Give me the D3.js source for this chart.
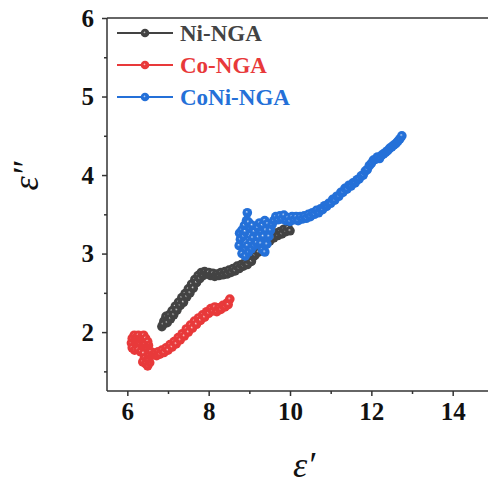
<!DOCTYPE html>
<html>
<head>
<meta charset="utf-8">
<script src="https://cdn.jsdelivr.net/npm/d3@7"></script>
<style>
  html, body { margin: 0; padding: 0; background: #fff; }
  svg { display: block; }
</style>
</head>
<body>
<svg id="graph"></svg>
<script>
// values: [epsilon', epsilon'']
let niNGA = [
  [6.85,2.07],[6.90,2.14],[6.88,2.10],[6.95,2.20],[6.98,2.12],[7.03,2.22],[7.06,2.17],[7.10,2.27],
  [7.14,2.22],[7.18,2.33],[7.22,2.28],[7.26,2.38],[7.30,2.34],[7.34,2.44],[7.38,2.38],[7.42,2.49],
  [7.46,2.45],[7.50,2.55],[7.54,2.50],[7.58,2.61],[7.62,2.56],[7.66,2.67],[7.70,2.63],[7.74,2.72],
  [7.78,2.68],[7.82,2.76],[7.86,2.72],[7.90,2.77],[7.95,2.74],[8.00,2.76],[8.05,2.72],[8.10,2.75],
  [8.15,2.71],[8.20,2.74],[8.25,2.72],[8.30,2.76],[8.35,2.73],[8.40,2.77],[8.45,2.74],[8.50,2.79],
  [8.55,2.76],[8.60,2.81],[8.65,2.78],[8.70,2.84],[8.75,2.81],[8.80,2.86],[8.85,2.84],[8.90,2.89],
  [8.95,2.86],[9.00,2.92],[9.05,2.90],[9.10,2.96],[9.14,2.98],[9.18,3.04],[9.22,3.02],[9.26,3.10],
  [9.30,3.08],[9.35,3.14],[9.40,3.12],[9.45,3.18],[9.50,3.16],[9.55,3.22],[9.60,3.20],[9.65,3.26],
  [9.70,3.23],[9.75,3.28],[9.80,3.25],[9.85,3.31],[9.90,3.28],[9.95,3.33],[10.00,3.29]
]
let coNGA = [
  [6.10,1.86],[6.12,1.92],[6.17,1.96],[6.22,1.93],[6.27,1.96],[6.30,1.89],[6.35,1.94],[6.40,1.96],
  [6.45,1.92],[6.50,1.88],[6.52,1.83],[6.46,1.80],[6.40,1.84],[6.33,1.81],[6.26,1.84],[6.18,1.82],
  [6.12,1.80],[6.18,1.77],[6.26,1.78],[6.33,1.75],[6.40,1.73],[6.42,1.67],[6.38,1.62],[6.45,1.60],
  [6.50,1.57],[6.55,1.61],[6.50,1.66],[6.53,1.71],[6.58,1.75],[6.62,1.71],[6.68,1.73],[6.72,1.70],
  [6.76,1.75],[6.80,1.72],[6.85,1.77],[6.90,1.74],[6.95,1.80],[7.00,1.77],[7.05,1.84],[7.10,1.81],
  [7.15,1.88],[7.20,1.85],[7.25,1.93],[7.30,1.90],[7.35,1.98],[7.40,1.95],[7.45,2.04],[7.50,2.00],
  [7.55,2.09],[7.60,2.05],[7.65,2.14],[7.70,2.10],[7.75,2.18],[7.80,2.15],[7.85,2.22],[7.90,2.19],
  [7.95,2.26],[8.00,2.24],[8.05,2.30],[8.10,2.27],[8.15,2.32],[8.20,2.26],[8.25,2.31],[8.30,2.29],
  [8.35,2.34],[8.40,2.32],[8.45,2.37],[8.48,2.35],[8.52,2.42]
]
let coNiNGA = [
  [8.75,3.10],[8.78,3.18],[8.76,3.26],[8.82,3.30],[8.86,3.22],[8.90,3.28],[8.88,3.36],[8.93,3.42],
  [8.95,3.52],[8.98,3.40],[9.02,3.32],[9.07,3.36],[9.12,3.28],[9.08,3.20],[9.02,3.14],[8.95,3.10],
  [8.88,3.04],[8.82,3.00],[8.90,2.97],[8.98,3.02],[9.05,3.06],[9.12,3.10],[9.18,3.14],[9.22,3.21],
  [9.27,3.28],[9.20,3.33],[9.25,3.39],[9.32,3.36],[9.38,3.42],[9.45,3.38],[9.40,3.30],[9.34,3.22],
  [9.28,3.13],[9.32,3.05],[9.38,3.02],[9.43,3.12],[9.48,3.22],[9.52,3.30],[9.56,3.37],[9.60,3.42],
  [9.65,3.47],[9.70,3.43],[9.75,3.48],[9.80,3.44],[9.85,3.49],[9.90,3.42],[9.95,3.46],[10.00,3.41],
  [10.05,3.47],[10.10,3.43],[10.15,3.47],[10.20,3.42],[10.25,3.47],[10.30,3.44],[10.35,3.48],[10.40,3.45],
  [10.45,3.50],[10.50,3.47],[10.55,3.52],[10.60,3.50],[10.65,3.55],[10.70,3.52],[10.75,3.57],[10.80,3.56],
  [10.85,3.61],[10.90,3.60],[10.95,3.64],[11.00,3.64],[11.05,3.69],[11.10,3.68],[11.15,3.73],[11.20,3.73],
  [11.25,3.78],[11.30,3.78],[11.35,3.83],[11.40,3.82],[11.45,3.87],[11.50,3.86],[11.55,3.90],[11.60,3.90],
  [11.65,3.94],[11.70,3.95],[11.75,3.99],[11.80,4.00],[11.85,4.05],[11.90,4.07],[11.95,4.12],[12.00,4.15],
  [12.05,4.19],[12.10,4.20],[12.15,4.23],[12.20,4.21],[12.25,4.25],[12.30,4.27],[12.35,4.29],[12.40,4.31],
  [12.45,4.34],[12.50,4.36],[12.55,4.38],[12.60,4.40],[12.65,4.43],[12.70,4.46],[12.75,4.50]
]

let seriesNames = ['Ni-NGA', 'Co-NGA', 'CoNi-NGA']
let seriesColors = ['#434343', '#e8393a', '#2470d8']
let xMajor = [6, 8, 10, 12, 14]
let xMinor = [7, 9, 11, 13]
let yMajor = [2, 3, 4, 5, 6]
let yMinor = [1.5, 2.5, 3.5, 4.5, 5.5]

function drawGraph() {
    let fullWidth = 488
    let fullHeight = 488
    let margin = {top: 18, left: 107}
    let axisColor = '#333'
    let serif = '"Liberation Serif", "Times New Roman", serif'

    let svg = d3.select('svg#graph')
                .attr('width', fullWidth)
                .attr('height', fullHeight)

    svg.append('rect')
       .attr('width', fullWidth)
       .attr('height', fullHeight)
       .attr('fill', '#fff')

    let x = d3.scaleLinear().domain([5.5, 15]).range([margin.left, margin.left + 9.5 * 40.67])
    let y = d3.scaleLinear().domain([1.25, 6]).range([391, margin.top])

    // marker gradients, a small white highlight on each ball
    let defs = svg.append('defs')
    seriesColors.forEach((c, i) => {
        let g = defs.append('radialGradient')
                    .attr('id', 'ball' + i)
                    .attr('cx', '0.5').attr('cy', '0.5').attr('r', '0.5')
                    .attr('fx', '0.42').attr('fy', '0.4')
        g.append('stop').attr('offset', '0%').attr('stop-color', '#ffffff')
        g.append('stop').attr('offset', '12%').attr('stop-color', d3.interpolateRgb('#fff', c)(0.6))
        g.append('stop').attr('offset', '32%').attr('stop-color', c)
        g.append('stop').attr('offset', '100%').attr('stop-color', c)
    })

    // frame: bottom, left and top lines (right side falls outside the picture)
    let fmt = d3.format('d')
    let xAxis = svg.append('g')
                   .attr('transform', 'translate(0,' + y(1.25) + ')')
                   .call(d3.axisBottom(x).tickValues(xMajor).tickFormat(fmt).tickSize(5).tickPadding(6))
    svg.append('g')
       .attr('transform', 'translate(0,' + y(1.25) + ')')
       .call(d3.axisBottom(x).tickValues(xMinor).tickSize(3).tickFormat(''))
       .call(g => g.select('.domain').remove())

    let yAxis = svg.append('g')
                   .attr('transform', 'translate(' + x(5.5) + ',0)')
                   .call(d3.axisLeft(y).tickValues(yMajor).tickFormat(fmt).tickSize(5).tickPadding(8))
    svg.append('g')
       .attr('transform', 'translate(' + x(5.5) + ',0)')
       .call(d3.axisLeft(y).tickValues(yMinor).tickSize(3).tickFormat(''))
       .call(g => g.select('.domain').remove())

    svg.append('line')
       .attr('x1', x(5.5)).attr('x2', x(15))
       .attr('y1', y(6)).attr('y2', y(6))
       .attr('stroke', axisColor)
       .attr('stroke-width', 1.5)

    svg.selectAll('.domain, .tick line')
       .attr('stroke', axisColor)
       .attr('stroke-width', 1.5)
    svg.selectAll('.tick text')
       .style('font-family', serif)
       .style('font-weight', 'bold')
       .style('font-size', '25px')
       .attr('fill', '#111')
    xAxis.selectAll('.domain').attr('d', 'M' + x(5.5) + ',0H' + x(15))
    yAxis.selectAll('.domain').attr('d', 'M0,' + y(1.25) + 'V' + y(6))

    // series
    let line = d3.line().x(d => x(d[0])).y(d => y(d[1]))
    let allSeries = [niNGA, coNGA, coNiNGA]
    allSeries.forEach((data, i) => {
        let g = svg.append('g')
        g.append('path')
         .datum(data)
         .attr('d', line)
         .attr('fill', 'none')
         .attr('stroke', seriesColors[i])
         .attr('stroke-width', 1.5)
        g.selectAll('circle')
         .data(data)
         .join('circle')
         .attr('cx', d => x(d[0]))
         .attr('cy', d => y(d[1]))
         .attr('r', 4.8)
         .attr('fill', 'url(#ball' + i + ')')
    })

    // legend
    let legend = svg.append('g')
    seriesNames.forEach((name, i) => {
        let ly = 33 + i * 32
        legend.append('line')
              .attr('x1', 117).attr('x2', 173)
              .attr('y1', ly).attr('y2', ly)
              .attr('stroke', seriesColors[i])
              .attr('stroke-width', 2)
        legend.append('circle')
              .attr('cx', 145).attr('cy', ly)
              .attr('r', 4.3)
              .attr('fill', 'url(#ball' + i + ')')
        legend.append('text')
              .attr('x', 180)
              .attr('y', ly + 8)
              .style('font-family', serif)
              .style('font-weight', 'bold')
              .style('font-size', '23px')
              .attr('fill', seriesColors[i])
              .text(name)
    })

    // axis titles
    svg.append('text')
       .attr('x', 304)
       .attr('y', 477)
       .attr('text-anchor', 'middle')
       .style('font-family', serif)
       .style('font-style', 'italic')
       .style('font-size', '36px')
       .attr('fill', '#111')
       .text('\u03b5\u2032')

    svg.append('text')
       .attr('transform', 'translate(38,176) rotate(-90)')
       .attr('text-anchor', 'middle')
       .style('font-family', serif)
       .style('font-style', 'italic')
       .style('font-size', '36px')
       .attr('fill', '#111')
       .text('\u03b5\u2033')
}

drawGraph()
</script>
</body>
</html>
